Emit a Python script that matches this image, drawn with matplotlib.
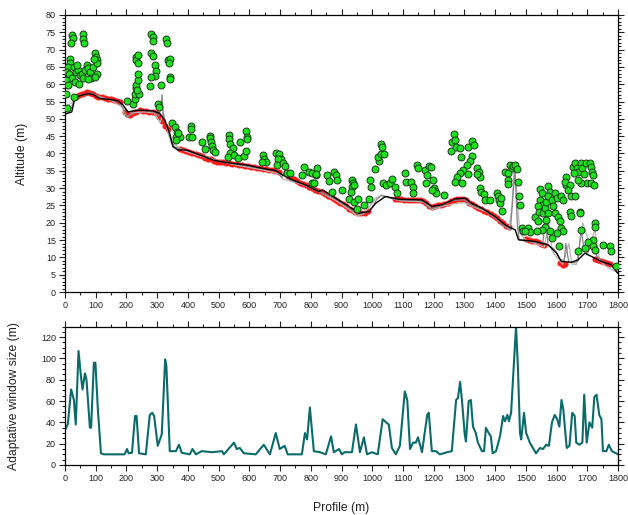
import numpy as np
import matplotlib
matplotlib.use("Agg")
import matplotlib.pyplot as plt
from matplotlib.ticker import MultipleLocator

plt.rcParams['font.family'] = ['Liberation Sans', 'DejaVu Sans']

# ---------------- data ----------------
# ground (black) profile
ground_x = [0, 22, 32, 49, 76, 92, 113, 146, 173, 189, 205, 222, 243, 286, 308, 324, 341, 351, 368, 395,
            438, 481, 524, 589, 643, 686, 708, 740, 784, 827, 838, 881, 924, 957, 989, 1011, 1043, 1086,
            1162, 1194, 1227, 1270, 1303, 1324, 1357, 1400, 1432, 1454, 1465, 1476, 1530, 1573, 1600,
            1616, 1648, 1670, 1692, 1713, 1746, 1778, 1798]
ground_y = [51.4, 52, 55.9, 56.7, 57.3, 57, 55.9, 55.6, 55.2, 54, 52, 52.3, 52.5, 52.3, 51.6, 49.7, 45.8,
            42, 41, 41, 39.6, 38.1, 37.4, 36.7, 35.7, 35.1, 33.8, 32.4, 30.9, 29, 29.5, 27.1, 24.7, 22.8,
            23.2, 25.6, 27.6, 26.8, 26.6, 24.7, 25.2, 26.9, 27.1, 25.6, 24.2, 21.8, 19.4, 18.4, 18, 15.1,
            14.6, 13.6, 11.2, 8.8, 8.6, 9.3, 11.2, 10.3, 8.8, 7.9, 5.5]

# filtered surfaces (gray)
gray1_x = [0, 20, 28, 35, 60, 80, 100, 120, 150, 175, 190, 200, 210, 225, 250, 280, 305, 312, 316, 320,
           330, 345, 355, 370, 400, 450, 500, 550, 600, 650, 690, 705, 715, 730, 780, 830, 880, 920, 955,
           985, 1000, 1015, 1030, 1045, 1080, 1160, 1190, 1225, 1260, 1300, 1320, 1360, 1400, 1430, 1450,
           1460, 1465, 1472, 1478, 1520, 1555, 1565, 1572, 1590, 1600, 1610, 1625, 1630, 1640, 1660, 1670,
           1680, 1690, 1700, 1720, 1730, 1750, 1780, 1800]
gray1_y = [52.5, 53, 55, 56.5, 57, 57.5, 56.8, 55.8, 55.5, 55, 53, 50.5, 51, 52.5, 52.5, 52.2, 51, 53, 57,
           51, 48, 44, 42, 41.5, 40.8, 39.3, 37.8, 37, 36.3, 35.5, 35, 33, 35, 32.5, 30.8, 28.8, 27, 24.6,
           22.5, 23, 24.5, 26.8, 28, 27.5, 26.6, 26.4, 24, 25, 26.5, 26.6, 25.2, 23.8, 21.5, 19, 18, 30,
           35, 20, 15, 14.5, 14, 22, 13.5, 12.5, 11.5, 9.5, 9, 14, 8.5, 8.5, 9, 18, 12, 11, 15, 10.5, 8.8,
           7.8, 5.5]
gray2_x = [0, 25, 40, 80, 110, 150, 185, 195, 205, 225, 260, 290, 310, 320, 335, 345, 360, 380, 450, 550,
           640, 700, 710, 740, 800, 880, 930, 950, 970, 990, 1010, 1030, 1060, 1100, 1170, 1195, 1230, 1270,
           1300, 1330, 1380, 1420, 1445, 1455, 1462, 1470, 1480, 1500, 1530, 1560, 1575, 1585, 1600, 1620,
           1640, 1650, 1665, 1685, 1700, 1710, 1725, 1740, 1760, 1790, 1800]
gray2_y = [53, 55, 56.5, 57.3, 56.5, 55.3, 53.5, 51, 50.8, 51.8, 52, 51.7, 49, 52, 46, 43, 42.5, 41, 39,
           36.8, 35.3, 34, 32.5, 32, 30.2, 26.5, 23.5, 22, 22.5, 24.5, 27, 27.8, 27, 26.3, 26, 23.8, 24.8,
           25.5, 25.8, 24.6, 22.8, 20, 18, 25, 36, 30, 17, 15, 14, 13, 20, 12, 10, 8, 14, 8, 8, 20, 16, 14,
           18, 9, 7.5, 6, 6]

# ground points (red)
red_x = [35, 45, 55, 65, 72, 80, 90, 100, 108,
         120, 130, 140, 150, 160, 170, 180,
         195, 202, 210, 220, 230,
         245, 255, 265, 275, 285, 295,
         305, 315, 325, 335,
         375, 385, 395, 405, 415, 425, 435, 445, 455, 465, 475, 485, 495, 505, 515, 525, 535, 545, 555,
         565, 575, 585, 595, 605, 615, 625, 635, 645, 655, 665, 675, 685, 695,
         725, 735, 745, 755, 765, 775, 785, 795, 805, 815, 825, 835, 845, 855, 865, 875, 885, 895, 905,
         915, 925, 935, 945, 955, 965, 975, 985,
         1075, 1085, 1095, 1105, 1115, 1125, 1135, 1145, 1155, 1165, 1175,
         1185, 1195, 1205, 1215,
         1225, 1235, 1245, 1255, 1265, 1275, 1285, 1295, 1305, 1315, 1325, 1335, 1345, 1355, 1365, 1375,
         1385, 1395, 1405, 1415, 1425, 1435, 1445,
         1500, 1510, 1520, 1530, 1540, 1550, 1560,
         1612, 1620, 1628,
         1725, 1735, 1745, 1755, 1765, 1775]
red_y = [56.3, 56.8, 57.2, 57.5, 57.8, 57.6, 57.2, 56.6, 56.2,
         56.2, 55.9, 55.8, 55.6, 55.5, 55.3, 54.8,
         52, 51.3, 51.2, 51.6, 52,
         52.6, 52.4, 52.3, 52.1, 51.9, 51.6,
         50.6, 49.5, 48, 47,
         41.2, 41, 40.8, 40.5, 40.2, 39.8, 39.5, 39.2, 38.8, 38.5, 38.3, 37.9, 37.6, 37.5, 37.4, 37.3,
         37.2, 37, 36.9, 36.7, 36.6, 36.5, 36.4, 36.2, 36, 35.9, 35.7, 35.6, 35.4, 35.3, 35.1, 35, 34.6,
         33.4, 32.9, 32.5, 32, 31.6, 31.1, 30.8, 30.4, 30, 29.6, 29.2, 28.8, 28.3, 27.8, 27.3, 26.8,
         26.3, 25.8, 25.3, 24.7, 24.1, 23.6, 23.1, 22.8, 22.7, 22.9, 23.4,
         27, 26.8, 26.8, 26.7, 26.7, 26.6, 26.7, 26.6, 26.5, 26.3, 25.8,
         24.8, 24.5, 24.8, 25,
         25.1, 25.4, 25.8, 26.2, 26.6, 26.9, 27, 26.8, 26.5, 25.8, 25.3, 24.8, 24.4, 24, 23.5, 23,
         22.4, 21.9, 21.3, 20.6, 19.9, 19.2, 18.8,
         15.2, 15, 14.8, 14.6, 14.3, 14, 13.7,
         8.4, 7.8, 8,
         9.6, 9.2, 9, 8.7, 8.3, 8.1]

# vegetation points (green)
veg_x = [2, 5, 22, 25, 18, 59, 59, 62, 16, 16, 11, 5, 13, 22, 29, 36, 43, 49, 32, 46, 54, 59, 65, 70, 76,
         81, 86, 76, 92, 97, 101, 103, 105, 95, 103, 97, 29, 3, 11, 38,
         203, 222, 227, 227, 230, 232, 238, 238, 232, 232, 236, 236, 241, 234, 281, 286, 288, 281, 288,
         292, 295, 292, 279, 278, 313, 328, 332, 335, 341, 338, 343, 341, 303, 306, 349, 357, 364, 362,
         373, 368, 360,
         409, 411, 405, 414, 445, 457, 473, 473, 476, 479, 481, 487, 533, 535, 538, 546, 538, 530, 551,
         570, 562, 584, 589, 594, 594, 589, 645, 649, 654, 641, 686, 697, 703, 692, 689, 708, 716, 721,
         732, 778, 795, 805, 773, 816, 805, 821,
         816, 811, 854, 859, 876, 881, 886, 870, 903, 935, 938, 933, 930, 940, 924, 940, 954, 951, 973,
         989, 994, 997, 1009, 1021, 1019, 1027, 1030, 1032, 1038, 1034, 1045, 1059, 1063, 1073, 1081,
         1108, 1110, 1127, 1132, 1132, 1146, 1149, 1173, 1178, 1175, 1184, 1192, 1197, 1200, 1203, 1207,
         1194, 1232,
         1257, 1261, 1267, 1270, 1272, 1286, 1288, 1311, 1324, 1330, 1324, 1319, 1308, 1297, 1286, 1276,
         1270, 1292, 1313, 1340, 1346, 1351, 1340, 1351, 1354, 1365, 1367, 1384, 1405, 1408, 1413, 1416,
         1421, 1419, 1432, 1441, 1443, 1449, 1454, 1459, 1465, 1470, 1473, 1441, 1478, 1481, 1486, 1492,
         1508, 1513,
         1530, 1540, 1546, 1551, 1546, 1551, 1551, 1540, 1543, 1557, 1562, 1567, 1573, 1578, 1573, 1584,
         1589, 1594, 1600, 1573, 1567, 1562, 1551, 1535, 1578, 1584, 1594, 1605, 1611, 1616, 1621, 1600,
         1608, 1616, 1621, 1632, 1632, 1627, 1643, 1638, 1648, 1659, 1643, 1648, 1675, 1675, 1654, 1659,
         1665, 1670, 1657, 1681, 1683, 1690, 1697, 1708, 1713, 1715, 1719, 1700, 1713, 1722, 1681, 1670,
         1726, 1726, 1681, 1670, 1692, 1719, 1703, 1719, 1724, 1751, 1773, 1778, 1794, 1497]
veg_y = [57.3, 53.2, 74.2, 73.4, 71.8, 74.4, 73.2, 72, 67.4, 66, 65, 63.6, 62.9, 61.7, 65, 63.6, 64, 62.6,
         60.7, 60, 63.1, 61.7, 64, 65.5, 64.6, 63.6, 61.7, 61.4, 65, 68.9, 68, 67, 66, 67.4, 63.1, 62,
         56.4, 61.2, 59.7, 65.5,
         55.1, 54.3, 55.6, 57.3, 58.8, 59.7, 61.2, 62.9, 67.9, 67, 68.4, 66, 57.3, 58.3, 74.6, 73.7, 72.5,
         68.9, 68.1, 65.5, 63.8, 62.5, 62, 59.5, 59.7, 73.2, 71.8, 67, 67.4, 66, 62.2, 61.4, 54.2, 53.5,
         48.9, 47.6, 46.3, 44.9, 44.9, 45.8, 43.9,
         47.9, 47, 44.9, 44.7, 43.4, 41.2, 45.1, 44.4, 43.4, 42.2, 41, 40.5, 45.3, 44.1, 42.7, 41.5, 40.1,
         38.9, 39.6, 43.2, 38.6, 39.3, 46.6, 44.9, 44.1, 40.8, 39.6, 38.3, 37.4, 37.4, 40.1, 39.9, 38.3,
         38.3, 36.7, 37.2, 36.5, 34.5, 34.5, 36.2, 34.8, 34.5, 33.8, 33.8, 31.6, 35.7,
         34.1, 31.6, 33.8, 32.2, 34.8, 33.8, 32.4, 29, 29.5, 32.4, 31.6, 30.3, 29, 31, 26.8, 26.1, 26.8,
         23.9, 25.2, 26.8, 32.4, 30.3, 35.4, 37.7, 38.9, 39.9, 42.7, 41.8, 39.9, 31.4, 30.9, 31.6, 32.6,
         30.3, 28.7, 34.5, 31.9, 31.9, 30.3, 28.7, 36.7, 35.7, 35.1, 33.8, 31.6, 36.4, 36.2, 32.4, 30,
         29.3, 28.5, 29.5, 28,
         40.8, 43.4, 45.6, 43.8, 41.8, 41.5, 39.1, 41.8, 43.7, 42.5, 39.3, 37.7, 36.7, 35.3, 34.3, 33.3,
         31.9, 31.6, 34.1, 35.7, 34.8, 33.3, 34.1, 30, 29, 28.3, 26.6, 26.6, 28.5, 27.6, 26.6, 25.6, 23.5,
         27.1, 34.8, 34.3, 32.4, 36.7, 35.7, 36.4, 36.7, 35.5, 31.9, 31.1, 27.6, 25.2, 18.4, 17.5, 18.4,
         17.2,
         21.8, 20.4, 29.7, 28.5, 26.6, 25.2, 23.7, 24.7, 23.2, 22.8, 24.2, 26.1, 30.5, 29, 27.6, 26.6,
         24.7, 28.7, 27.1, 22.8, 20.8, 18.9, 18, 17.5, 17.5, 15.6, 22.8, 21.8, 20.4, 18.5, 17.6, 17,
         13.2, 27.6, 26.6, 30.9, 33.3, 31.9, 30.9, 29.5, 27.6, 27.6, 23.2, 22, 23.2, 22.7, 36.2, 37.2,
         35.7, 34.8, 34.3, 37.2, 35.7, 34.1, 37.2, 37.2, 36.2, 34.8, 33.8, 31.6, 31.6, 30.9, 31.6, 32.4,
         19.9, 18.9, 18, 11.7, 12.7, 15.1, 14.3, 13.2, 12, 13.6, 13.4, 11.7, 7.4, 17.7]

# adaptive window size
win_x = [0, 9, 20, 29, 35, 44, 52, 57, 65, 70, 81, 85, 94, 99, 107, 117, 126, 194, 202, 207, 218, 228,
         233, 241, 263, 276, 284, 290, 302, 315, 326, 330, 341, 361, 371, 380, 406, 415, 426, 445, 478,
         511, 517, 550, 559, 569, 582, 621, 647, 667, 686, 699, 715, 725, 771, 781, 788, 797, 810, 830,
         849, 866, 875, 892, 901, 910, 934, 947, 960, 973, 983, 999, 1018, 1034, 1045, 1054, 1064, 1077,
         1090, 1106, 1114, 1123, 1133, 1142, 1149, 1162, 1179, 1184, 1194, 1207, 1220, 1244, 1259, 1273,
         1279, 1286, 1292, 1301, 1305, 1314, 1321, 1328, 1337, 1344, 1357, 1364, 1370, 1379, 1386, 1392,
         1403, 1416, 1426, 1432, 1440, 1445, 1452, 1468, 1474, 1481, 1485, 1494, 1501, 1513, 1533, 1546,
         1556, 1566, 1575, 1585, 1594, 1602, 1609, 1616, 1622, 1633, 1642, 1651, 1659, 1664, 1674, 1684,
         1690, 1698, 1707, 1716, 1723, 1730, 1739, 1746, 1751, 1762, 1770, 1780, 1793, 1800]
win_y = [33, 38, 71, 61, 38, 107, 83, 71, 86, 80, 35, 35, 96, 96, 52, 11, 10, 10, 15, 11, 11.5, 46, 46, 11,
         10, 47, 49, 46, 18, 29, 99, 93, 13, 13, 19, 11.5, 10, 15, 10, 13, 12, 13, 10, 21, 15, 16, 11, 10,
         19, 10, 30, 15, 18, 10, 10, 30, 24, 54, 13, 12, 10, 27, 12, 15, 10, 12, 12, 38, 12, 26, 10, 12,
         10, 43, 40, 38, 16, 10, 18, 69, 61, 15, 21, 21, 26, 12, 47, 49, 13, 13, 10, 12, 13, 61, 63, 78,
         61, 29, 22, 60, 61, 36, 30, 21, 13, 13, 35, 30, 27, 11, 13, 27, 46, 41, 47, 41, 49, 130, 93, 30,
         24, 49, 30, 21, 11, 16, 15, 19, 18, 40, 47, 43, 36, 61, 52, 16, 18, 49, 46, 21, 19, 21, 66, 21,
         40, 35, 64, 66, 47, 43, 13, 13, 19, 13, 11, 10]

# ---------------- figure ----------------
fig = plt.figure(figsize=(6.28, 5.15), dpi=100)
ax1 = fig.add_axes([0.1035, 0.433, 0.8806, 0.5379])
ax2 = fig.add_axes([0.1035, 0.0971, 0.8806, 0.2689])

ax1.plot(red_x, red_y, linestyle='none', marker='o', markersize=4.4, color='#ff1a1a',
         markeredgewidth=0, zorder=2)
ax1.plot(gray2_x, gray2_y, color='#b5b5b5', lw=0.9, zorder=3)
ax1.plot(gray1_x, gray1_y, color='#858585', lw=0.9, zorder=3)
ax1.plot(ground_x, ground_y, color='black', lw=1.0, zorder=4)
ax1.plot(veg_x, veg_y, linestyle='none', marker='o', markersize=5.0, markerfacecolor='#1ee01e',
         markeredgecolor='#1a3a1a', markeredgewidth=0.7, zorder=5)

ax1.set_xlim(0, 1800)
ax1.set_ylim(0, 80)
ax1.xaxis.set_major_locator(MultipleLocator(100))
ax1.xaxis.set_minor_locator(MultipleLocator(50))
ax1.yaxis.set_major_locator(MultipleLocator(5))
ax1.yaxis.set_minor_locator(MultipleLocator(1))
ax1.set_ylabel('Altitude (m)', fontsize=8.7, color='#222222')
ax1.yaxis.set_label_coords(-0.066, 0.5)

ax2.plot(win_x, win_y, color='#0b6b6b', lw=1.5)
ax2.set_xlim(0, 1800)
ax2.set_ylim(0, 130)
ax2.xaxis.set_major_locator(MultipleLocator(100))
ax2.xaxis.set_minor_locator(MultipleLocator(50))
ax2.yaxis.set_major_locator(MultipleLocator(20))
ax2.yaxis.set_minor_locator(MultipleLocator(5))
ax2.set_ylabel('Adaptative window size (m)', fontsize=8.7, color='#222222')
ax2.yaxis.set_label_coords(-0.081, 0.5)
ax2.set_xlabel('Profile (m)', fontsize=8.7, color='#222222')
ax2.xaxis.set_label_coords(0.5, -0.265)

for ax in (ax1, ax2):
    ax.tick_params(which='both', direction='out', top=True, right=True, labelsize=6.5,
                   colors='#222222', width=0.8)
    ax.tick_params(which='major', length=4, pad=2.5)
    ax.tick_params(which='minor', length=2)
    for s in ax.spines.values():
        s.set_linewidth(0.9)
ax1.tick_params(labeltop=False, labelright=False)
ax2.tick_params(labeltop=False, labelright=False)

fig.savefig('out.png', dpi=100)
